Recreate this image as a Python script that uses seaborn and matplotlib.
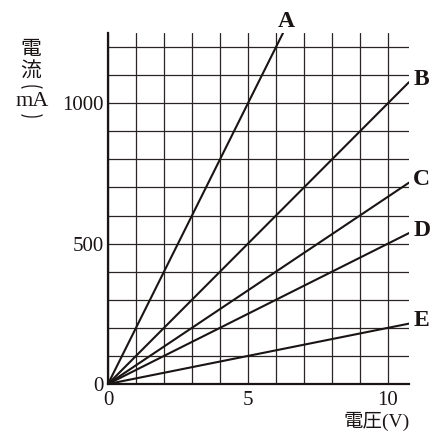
import numpy as np
import pandas as pd
import matplotlib
matplotlib.use("Agg")
import matplotlib.pyplot as plt
from matplotlib.patches import Arc
import seaborn as sns

# current (mA) per volt and where each line stops
names = ["A", "B", "C", "D", "E"]
slope = [200, 100, 66.7, 50, 20]
v_end = [6.25, 10.75, 10.75, 10.75, 10.75]

x_ticks = [0, 5, 10]
y_ticks = [0, 500, 1000]

rows = []
for n, s, ve in zip(names, slope, v_end):
    rows.append({"line": n, "V": 0.0, "I": 0.0})
    rows.append({"line": n, "V": ve, "I": s * ve})
df = pd.DataFrame(rows)

ink = "#1a1414"
sns.set_theme(style="white")
plt.rcParams["font.family"] = ["Liberation Serif", "Noto Sans CJK JP"]

fig = plt.figure(figsize=(4.31, 4.37), dpi=100)
ax = fig.add_axes([108 / 431, 53 / 437, 301 / 431, 351 / 437])

sns.lineplot(data=df, x="V", y="I", units="line", estimator=None,
             color=ink, lw=1.5, ax=ax)

ax.set_xlim(0, 10.75)
ax.set_ylim(0, 1250)
ax.set_xticks(x_ticks)
ax.set_yticks(y_ticks)
ax.set_xticks(np.arange(0, 11, 1), minor=True)
ax.set_yticks(np.arange(0, 1201, 100), minor=True)
ax.grid(which="both", color="#2a2424", lw=0.9)
ax.set_axisbelow(True)
ax.tick_params(which="both", length=0, labelsize=15, colors=ink)
ax.tick_params(axis="x", pad=5)
ax.tick_params(axis="y", pad=3)
for sp in ["top", "right"]:
    ax.spines[sp].set_visible(False)
for sp in ["left", "bottom"]:
    ax.spines[sp].set_color(ink)
    ax.spines[sp].set_linewidth(1.6)
ax.set_xlabel("")
ax.set_ylabel("")

for n, s, ve in zip(names, slope, v_end):
    if n == "A":
        ax.text(ve + 0.1, s * ve + 5, n, fontsize=17, fontweight="bold",
                ha="center", va="bottom", color=ink)
    else:
        ax.text(ve + 0.15, s * ve + 10, n, fontsize=17, fontweight="bold",
                ha="left", va="center", color=ink)

fig.text(410 / 431, 1 - 421 / 437, "電圧(V)", fontsize=14, ha="right",
         va="center", color=ink)
fig.text(31 / 431, 1 - 50 / 437, "電", fontsize=15, ha="center", va="center", color=ink)
fig.text(31 / 431, 1 - 72 / 437, "流", fontsize=15, ha="center", va="center", color=ink)
fig.text(32 / 431, 1 - 102 / 437, "mA", fontsize=16, ha="center", va="center", color=ink)
# vertical-writing parentheses around the unit
tr = fig.dpi_scale_trans
fig.add_artist(Arc((0.32, (437 - 91) / 100), 0.26, 0.10, theta1=15, theta2=165,
                   transform=tr, color=ink, lw=0.9))
fig.add_artist(Arc((0.32, (437 - 112) / 100), 0.26, 0.10, theta1=195, theta2=345,
                   transform=tr, color=ink, lw=0.9))

fig.savefig("out.png", dpi=100)
